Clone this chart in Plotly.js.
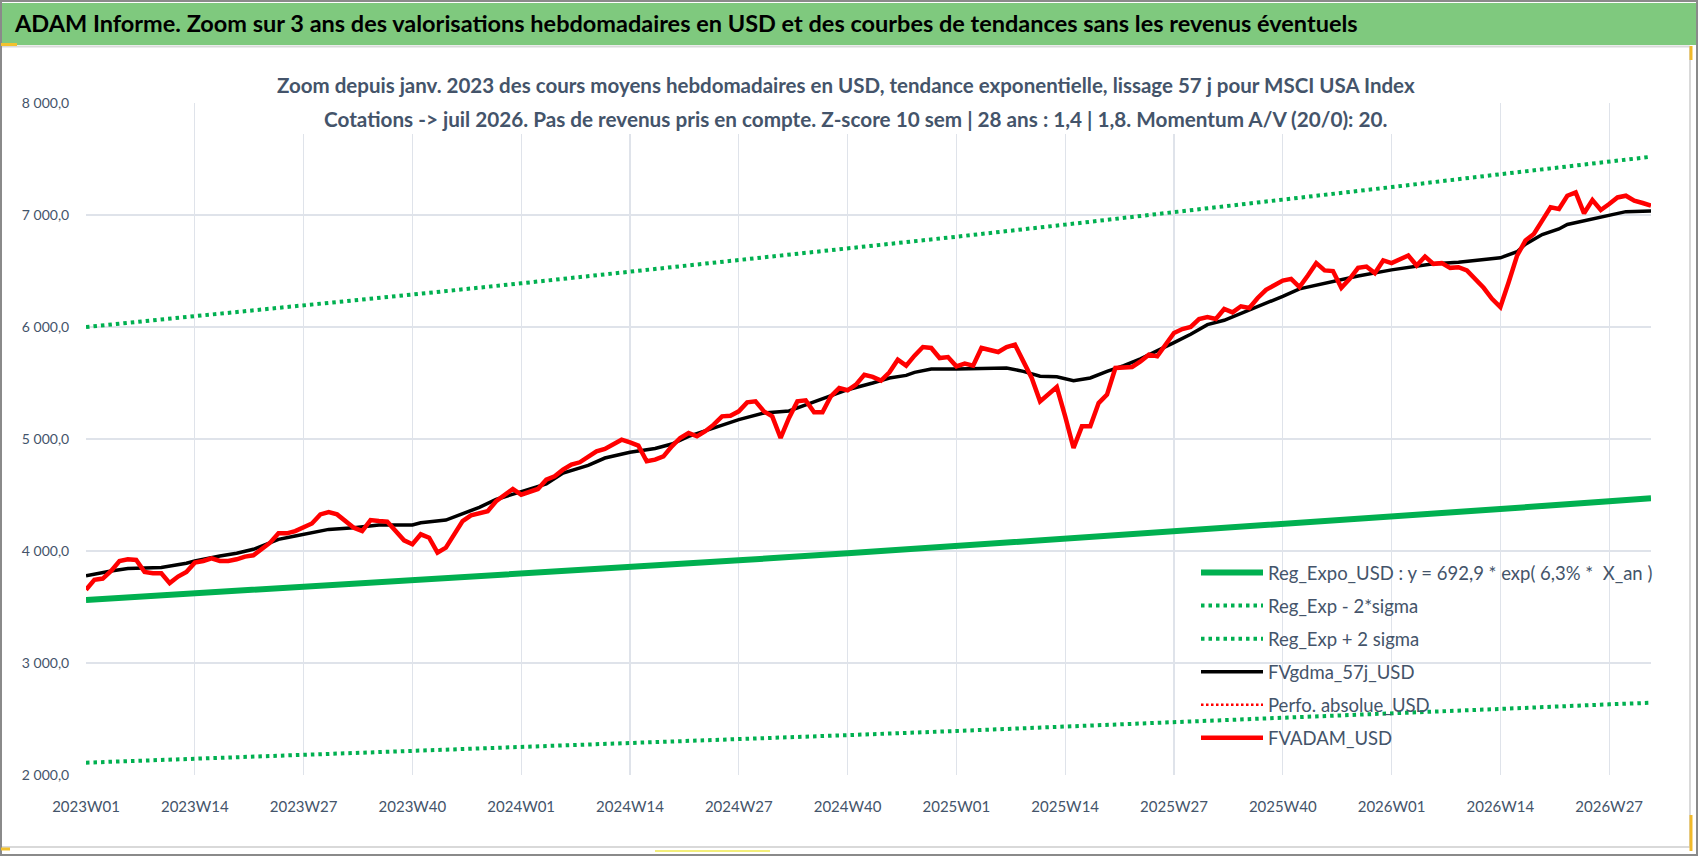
<!DOCTYPE html>
<html><head><meta charset="utf-8">
<script src="https://cdn.plot.ly/plotly-3.0.1.min.js"></script>
<style>html,body{margin:0;padding:0;background:#fff;}#chart{width:1698px;height:856px;}</style>
</head><body><div id="chart"></div>
<script>
// ---------- DATA ----------
const yearWeekCounts = [[2023, 52], [2024, 52], [2025, 52], [2026, 32]];
const weeks = [];
yearWeekCounts.forEach(([y, n]) => { for (let w = 1; w <= n; w++) weeks.push(y + 'W' + String(w).padStart(2, '0')); });

const tickLabels = ['2023W01','2023W14','2023W27','2023W40','2024W01','2024W14','2024W27','2024W40',
  '2025W01','2025W14','2025W27','2025W40','2026W01','2026W14','2026W27'];

// FVADAM_USD (weekly)
const fvadam = [
  3653,3742,3754,3822,3911,3926,3920,3813,3802,3802,3713,3772,3813,3896,3911,3935,3911,3911,3926,3950,
  3962,4015,4074,4158,4158,4178,4214,4246,4327,4347,4327,4267,4208,4178,4276,4267,4261,4178,4095,4060,
  4149,4119,3985,4030,4149,4267,4318,4341,4356,4444,4503,4554,4503,4533,4554,4637,4667,4726,4771,4792,
  4845,4890,4911,4958,4994,4970,4941,4801,4816,4845,4935,5009,5054,5024,5069,5128,5202,5208,5247,5327,
  5336,5247,5202,5009,5188,5336,5345,5238,5238,5381,5455,5435,5485,5574,5554,5521,5595,5708,5655,5744,
  5821,5813,5723,5732,5649,5673,5655,5813,5798,5777,5821,5842,5693,5545,5336,5396,5464,5202,4920,5113,
  5113,5321,5396,5634,5634,5643,5693,5753,5738,5842,5946,5982,6000,6071,6089,6071,6161,6131,6185,6170,
  6259,6332,6371,6415,6430,6356,6460,6570,6505,6499,6350,6430,6528,6540,6481,6594,6570,6608,6638,6549,
  6629,6564,6570,6528,6534,6505,6430,6350,6252,6178,6401,6638,6772,6831,6950,7068,7053,7172,7202,7015,
  7134,7045,7098,7157,7172,7128,7107,7083
];

// FVgdma_57j_USD (read at selected weeks)
const gdmaWeeks = ['2023W01','2023W04','2023W06','2023W10','2023W13','2023W14','2023W17','2023W19','2023W21','2023W23',
  '2023W24','2023W26','2023W28','2023W30','2023W33','2023W36','2023W40','2023W41','2023W44','2023W46',
  '2023W48','2023W50','2024W01','2024W04','2024W06','2024W09','2024W11','2024W14','2024W17','2024W19',
  '2024W21','2024W24','2024W27','2024W30','2024W33','2024W35','2024W38','2024W40','2024W43','2024W45',
  '2024W47','2024W48','2024W50','2025W01','2025W07','2025W09','2025W11','2025W13','2025W15','2025W17',
  '2025W19','2025W21','2025W23','2025W25','2025W27','2025W29','2025W31','2025W33','2025W36','2025W38',
  '2025W40','2025W42','2025W45','2025W47','2025W49','2026W01','2026W03','2026W06','2026W09','2026W11',
  '2026W13','2026W14','2026W16','2026W17','2026W19','2026W21','2026W22','2026W24','2026W26','2026W27',
  '2026W29','2026W32'];
const gdmaValues = [3778,3822,3843,3852,3891,3911,3956,3980,4015,4074,
  4104,4134,4163,4193,4208,4232,4232,4252,4276,4335,
  4390,4460,4533,4600,4696,4765,4830,4881,4915,4955,
  5024,5098,5173,5232,5250,5305,5385,5440,5500,5545,
  5568,5595,5625,5625,5634,5604,5560,5555,5521,5545,
  5604,5655,5715,5785,5860,5935,6021,6060,6150,6214,
  6274,6341,6390,6415,6455,6510,6534,6564,6579,6594,
  6608,6618,6672,6740,6825,6875,6915,6950,6985,7000,
  7030,7035];

// Regression curves (read at the 13-week gridlines and the last week)
const regWeeks = ['2023W01','2023W14','2023W27','2023W40','2024W01','2024W14','2024W27','2024W40',
  '2025W01','2025W14','2025W27','2025W40','2026W01','2026W14','2026W27','2026W32'];
const regExpo  = [3563,3620,3677,3736,3795,3855,3917,3979,4043,4107,4172,4239,4306,4375,4445,4470];
const regMinus = [2110,2144,2178,2212,2247,2283,2319,2356,2393,2431,2470,2509,2549,2590,2631,2645];
const regPlus  = [6000,6095,6192,6290,6390,6492,6595,6700,6806,6914,7024,7136,7249,7364,7481,7520];

const seriesNames = ['Reg_Expo_USD : y = 692,9 * exp( 6,3% *\u00a0 X_an )','Reg_Exp - 2*sigma','Reg_Exp + 2 sigma',
  'FVgdma_57j_USD','Perfo. absolue_USD','FVADAM_USD'];

// ---------- LAYOUT HELPERS ----------
const W = 1698, H = 856, ML = 86, MT = 103, PW = 1565, PH = 672;
const fx = p => (p - ML) / PW;
const fy = p => (MT + PH - p) / PH;
const FONT = 'Lato, "Open Sans", sans-serif';
const TXT = '#44546A';
const GREEN = '#00B050';

const traces = [
  {x: regWeeks, y: regMinus, name: seriesNames[1], mode: 'lines', line: {color: GREEN, width: 4, dash: '3.5px,4px'}, legendgroup: 'g2', legendrank: 2},
  {x: regWeeks, y: regPlus, name: seriesNames[2], mode: 'lines', line: {color: GREEN, width: 4, dash: '3.5px,4px'}, legendgroup: 'g3', legendrank: 3},
  {x: regWeeks, y: regExpo, name: seriesNames[0], mode: 'lines', line: {color: GREEN, width: 6}, legendgroup: 'g1', legendrank: 1},
  {x: [null], y: [null], name: seriesNames[4], mode: 'lines', line: {color: '#FF0000', width: 2.5, dash: '2.5px,2.5px'}, legendgroup: 'g5', legendrank: 5},
  {x: gdmaWeeks, y: gdmaValues, name: seriesNames[3], mode: 'lines', line: {color: '#000000', width: 3.5}, legendgroup: 'g4', legendrank: 4},
  {x: weeks, y: fvadam, name: seriesNames[5], mode: 'lines', line: {color: '#FF0000', width: 4.5}, legendgroup: 'g6', legendrank: 6}
];

const shapes = [
  {type: 'rect', xref: 'paper', yref: 'paper', x0: fx(2), x1: fx(1696), y0: fy(45), y1: fy(3), fillcolor: '#7fc97e', line: {width: 0}, layer: 'below'},
  {type: 'line', xref: 'paper', yref: 'paper', x0: fx(2), x1: fx(1690), y0: fy(46.5), y1: fy(46.5), line: {color: '#d9d9d9', width: 2}},
  {type: 'line', xref: 'paper', yref: 'paper', x0: fx(2), x1: fx(1690), y0: fy(847), y1: fy(847), line: {color: '#d9d9d9', width: 2}},
  {type: 'line', xref: 'paper', yref: 'paper', x0: fx(1690), x1: fx(1690), y0: fy(46.5), y1: fy(847), line: {color: '#d9d9d9', width: 2}},
  {type: 'rect', xref: 'paper', yref: 'paper', x0: fx(1), x1: fx(1697), y0: fy(855), y1: fy(1), line: {color: '#8a8a8a', width: 2}},
  {type: 'rect', xref: 'paper', yref: 'paper', x0: fx(274), x1: fx(1410), y0: fy(134), y1: fy(64), fillcolor: '#ffffff', line: {width: 0}, layer: 'above'},
  {type: 'line', xref: 'paper', yref: 'paper', x0: fx(1), x1: fx(17), y0: fy(44.5), y1: fy(44.5), line: {color: '#f2c12e', width: 3}},
  {type: 'line', xref: 'paper', yref: 'paper', x0: fx(1), x1: fx(10), y0: fy(849), y1: fy(849), line: {color: '#f2c12e', width: 3}},
  {type: 'line', xref: 'paper', yref: 'paper', x0: fx(655), x1: fx(770), y0: fy(851), y1: fy(851), line: {color: '#f3ee7a', width: 2}},
  {type: 'line', xref: 'paper', yref: 'paper', x0: fx(1691), x1: fx(1691), y0: fy(815), y1: fy(851), line: {color: '#f0b92a', width: 3}},
  {type: 'line', xref: 'paper', yref: 'paper', x0: fx(1691), x1: fx(1691), y0: fy(46), y1: fy(60), line: {color: '#f0b92a', width: 3}}
];

const annotations = [
  {xref: 'paper', yref: 'paper', x: fx(846), y: fy(84.5), xanchor: 'center', yanchor: 'middle', showarrow: false,
   text: '<b>Zoom depuis janv. 2023 des cours moyens hebdomadaires en USD, tendance exponentielle, lissage 57 j pour MSCI USA Index</b>',
   font: {family: FONT, size: 20.5, color: TXT}},
  {xref: 'paper', yref: 'paper', x: fx(855), y: fy(119), xanchor: 'center', yanchor: 'middle', showarrow: false,
   text: '<b>Cotations -> juil 2026. Pas de revenus pris en compte. Z-score 10 sem | 28 ans : 1,4 | 1,8. Momentum A/V (20/0): 20.</b>',
   font: {family: FONT, size: 20.7, color: TXT}}
];

const layout = {
  width: W, height: H,
  margin: {l: ML, r: W - ML - PW, t: MT, b: H - MT - PH, pad: 0},
  paper_bgcolor: '#ffffff', plot_bgcolor: '#ffffff',
  separators: ', ',
  font: {family: FONT, color: TXT},
  title: {text: '<b>ADAM Informe. Zoom sur 3 ans des valorisations hebdomadaires en USD et des courbes de tendances sans les revenus éventuels</b>',
    xref: 'container', yref: 'container', x: 15 / W, xanchor: 'left', y: 1 - 24 / H, yanchor: 'middle',
    font: {family: FONT, size: 23.5, color: '#000000'}},
  showlegend: true,
  legend: {x: fx(1196), y: fy(554), xanchor: 'left', yanchor: 'top', bgcolor: 'rgba(0,0,0,0)', itemwidth: 62,
    font: {family: FONT, size: 18.5, color: TXT}, traceorder: 'grouped', tracegroupgap: 6},
  xaxis: {type: 'category', categoryorder: 'array', categoryarray: weeks, range: [0, weeks.length - 1],
    tickmode: 'array', tickvals: tickLabels, ticktext: tickLabels,
    showgrid: true, gridcolor: '#dfe3ea', gridwidth: 1.3, zeroline: false, showline: false,
    ticks: 'outside', ticklen: 18, tickcolor: 'rgba(0,0,0,0)', tickangle: 0,
    tickfont: {family: FONT, size: 15, color: TXT}, fixedrange: true},
  yaxis: {range: [2000, 8000], dtick: 1000, tick0: 2000, tickformat: ',.1f',
    showgrid: true, gridcolor: '#dfe3ea', gridwidth: 1.3, zeroline: false, showline: false,
    ticks: 'outside', ticklen: 13, tickcolor: 'rgba(0,0,0,0)',
    tickfont: {family: FONT, size: 14, color: TXT}, fixedrange: true},
  shapes: shapes, annotations: annotations
};

Plotly.newPlot('chart', traces, layout, {displayModeBar: false, staticPlot: true});
</script></body></html>
